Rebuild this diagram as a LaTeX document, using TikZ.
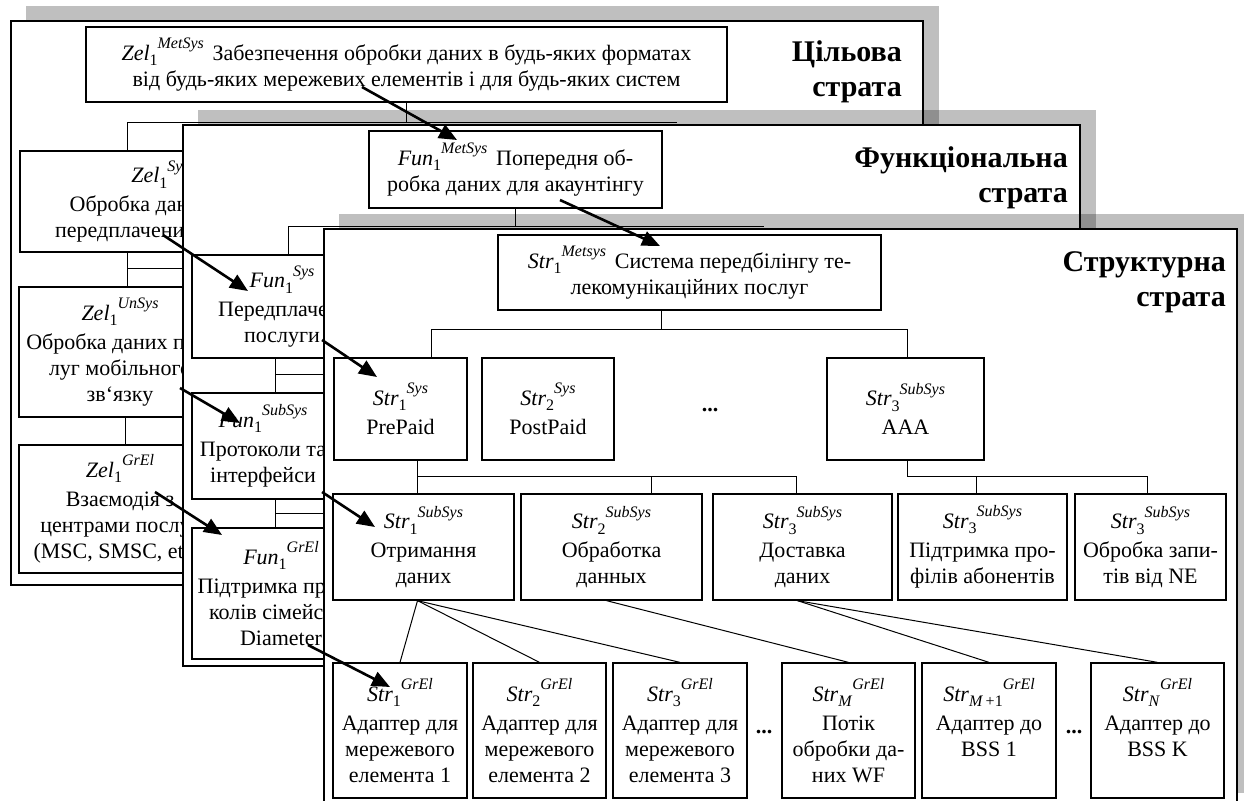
\documentclass[tikz,border=0pt]{standalone}
\usepackage{fontspec}
\setmainfont{Liberation Serif}
\usetikzlibrary{arrows.meta}
\definecolor{strataShade}{HTML}{000000}

% label of a unit: name, index, level
\newcommand{\unitlbl}[3]{\textit{#1}\raisebox{-0.25em}{\fontsize{16}{16}\selectfont #2}\raisebox{0.52em}{\fontsize{16}{16}\selectfont\itshape #3}}

\begin{document}
\begin{tikzpicture}[
    x=1pt, y=-1pt,
    every node/.style={font=\fontsize{22}{26}\selectfont, inner sep=0pt},
    stratumframe/.style={draw=black, line width=2.2pt, fill=white},
    stratashadow/.style={fill=strataShade, fill opacity=0.25},
    unitbox/.style={draw=black, line width=1.3pt, fill=white, align=center},
    treeline/.style={draw=black, line width=1pt},
    tracearrow/.style={draw=black, line width=2.6pt, -{Triangle[length=18pt, width=15pt]}},
    stratatitle/.style={font=\fontsize{30}{35}\selectfont\bfseries, align=right, anchor=north east}
]
\useasboundingbox (0,0) rectangle (1244,800);
\clip (0,0) rectangle (1244,800);

% ============================
% Goal stratum
% ============================
\fill[stratashadow] (26,6) rectangle (939,570);
\filldraw[stratumframe] (11,21) rectangle (923,585);
\node[stratatitle] (titleZel) at (902,40) {Цільова\\страта};

\node[unitbox, minimum width=641, minimum height=75] (zelMeta) at (406.5,64.5)
    {\unitlbl{Zel}{1}{MetSys}\hspace{0.4em}Забезпечення обробки даних в будь-яких форматах\\від будь-яких мережевих елементів і для будь-яких систем};
\node[unitbox, minimum width=280, minimum height=101] (zelSys) at (160,201.5)
    {\unitlbl{Zel}{1}{Sys}\\[3pt]Обробка даних про\\передплачених послуг};
\node[unitbox, minimum width=202, minimum height=130] (zelUnSys) at (120,352)
    {\unitlbl{Zel}{1}{UnSys}\\[3pt]Обробка даних пос-\\луг мобільного\\зв‘язку};
\node[unitbox, minimum width=202, minimum height=128] (zelGrEl) at (120,509)
    {\unitlbl{Zel}{1}{GrEl}\\[3pt]Взаємодія з\\центрами послуг\\(MSC, SMSC, etc.)};

\coordinate (zelBus) at (127,122);
\coordinate (zelFork) at (127,268);
\draw[treeline] (zelMeta.south) -- (zelMeta.south |- zelBus);
\draw[treeline] (zelSys.north -| zelBus) |- (677,122);
\draw[treeline] (zelSys.south -| zelFork) -- (zelUnSys.north -| zelFork);
\draw[treeline] (zelFork) -- (320,268);
\draw[treeline] (zelUnSys.south -| 125,0) -- (zelGrEl.north -| 125,0);

% ============================
% Functional stratum
% ============================
\fill[stratashadow] (198,110) rectangle (1096,651);
\filldraw[stratumframe] (183,125) rectangle (1080,666);
\node[stratatitle] (titleFun) at (1068,146) {Функціональна\\страта};

\node[unitbox, minimum width=293, minimum height=77] (funMeta) at (515.5,169.5)
    {\unitlbl{Fun}{1}{MetSys}\hspace{0.4em}Попередня об-\\робка даних для акаунтінгу};
\node[unitbox, minimum width=180, minimum height=103] (funSys) at (282,306.5)
    {\unitlbl{Fun}{1}{Sys}\\[3pt]Передплачені\\послуги};
\node[unitbox, minimum width=142, minimum height=106] (funSubSys) at (263,446)
    {\unitlbl{Fun}{1}{SubSys}\\[3pt]Протоколи та\\інтерфейси};
\node[unitbox, minimum width=178, minimum height=131] (funGrEl) at (281,593.5)
    {\unitlbl{Fun}{1}{GrEl}\\[3pt]Підтримка прото-\\колів сімейства\\Diameter};

\coordinate (funBus) at (288,226);
\coordinate (funForkA) at (275,374);
\coordinate (funForkB) at (275,513);
\draw[treeline] (funMeta.south) -- (funMeta.south |- funBus);
\draw[treeline] (funSys.north -| funBus) |- (764,226);
\draw[treeline] (funSys.south -| funForkA) -- (funSubSys.north -| funForkA);
\draw[treeline] (funForkA) -- (420,374);
\draw[treeline] (funSubSys.south -| funForkB) -- (funGrEl.north -| funForkB);
\draw[treeline] (funForkB) -- (420,513);

% ============================
% Structural stratum
% ============================
\fill[stratashadow] (339,214) rectangle (1253,793);
\filldraw[stratumframe] (324,229) rectangle (1237,808);
\node[stratatitle] (titleStr) at (1226,251) {Структурна\\страта};

\node[unitbox, minimum width=383, minimum height=75] (strMeta) at (689.5,272.5)
    {\unitlbl{Str}{1}{Metsys}\hspace{0.4em}Система передбілінгу те-\\лекомунікаційних послуг};

% systems
\node[unitbox, minimum width=133, minimum height=102] (strPre) at (400.5,409)
    {\unitlbl{Str}{1}{Sys}\\[3pt]PrePaid};
\node[unitbox, minimum width=132, minimum height=102] (strPost) at (548,409)
    {\unitlbl{Str}{2}{Sys}\\[3pt]PostPaid};
\node[font=\fontsize{22}{26}\selectfont\bfseries] (dotsSys) at (710,410) {...};
\node[unitbox, minimum width=157, minimum height=102] (strAAA) at (905.5,409)
    {\unitlbl{Str}{3}{SubSys}\\[3pt]AAA};

% subsystems
\node[unitbox, minimum width=181, minimum height=106] (strRecv) at (423.5,547)
    {\unitlbl{Str}{1}{SubSys}\\[3pt]Отримання\\даних};
\node[unitbox, minimum width=181, minimum height=106] (strProc) at (611.5,547)
    {\unitlbl{Str}{2}{SubSys}\\[3pt]Обработка\\данных};
\node[unitbox, minimum width=179, minimum height=106] (strDeliv) at (802.5,547)
    {\unitlbl{Str}{3}{SubSys}\\[3pt]Доставка\\даних};
\node[unitbox, minimum width=169, minimum height=106] (strProf) at (982.5,547)
    {\unitlbl{Str}{3}{SubSys}\\[3pt]Підтримка про-\\філів абонентів};
\node[unitbox, minimum width=151, minimum height=106] (strReq) at (1150.5,547)
    {\unitlbl{Str}{3}{SubSys}\\[3pt]Обробка запи-\\тів від NE};

% group elements
\node[unitbox, minimum width=134, minimum height=135] (strAdA) at (400,730.5)
    {\unitlbl{Str}{1}{GrEl}\\[3pt]Адаптер для\\мережевого\\елемента 1};
\node[unitbox, minimum width=133, minimum height=135] (strAdB) at (539.5,730.5)
    {\unitlbl{Str}{2}{GrEl}\\[3pt]Адаптер для\\мережевого\\елемента 2};
\node[unitbox, minimum width=134, minimum height=135] (strAdC) at (680,730.5)
    {\unitlbl{Str}{3}{GrEl}\\[3pt]Адаптер для\\мережевого\\елемента 3};
\node[font=\fontsize{22}{26}\selectfont\bfseries] (dotsGrA) at (764,732) {...};
\node[unitbox, minimum width=133, minimum height=135] (strFlow) at (848.5,730.5)
    {\unitlbl{Str}{\textit{M}}{GrEl}\\[3pt]Потік\\обробки да-\\них WF};
\node[unitbox, minimum width=134, minimum height=135] (strBssA) at (989,730.5)
    {\unitlbl{Str}{\textit{M}\,+1}{GrEl}\\[3pt]Адаптер до\\BSS 1\\\mbox{}};
\node[font=\fontsize{22}{26}\selectfont\bfseries] (dotsGrB) at (1074,732) {...};
\node[unitbox, minimum width=133, minimum height=135] (strBssK) at (1157.5,730.5)
    {\unitlbl{Str}{\textit{N}}{GrEl}\\[3pt]Адаптер до\\BSS K\\\mbox{}};

% tree of the structural stratum
\draw[treeline] (strMeta.south -| 661,0) -- (661,329);
\draw[treeline] (strPre.north -| 431,0) |- (907,329) -- (strAAA.north -| 907,0);
\draw[treeline] (strPre.south -| 417,0) -- (strRecv.north -| 417,0);
\draw[treeline] (417,476) -| (strProc.north -| 651,0);
\draw[treeline] (651,476) -| (strDeliv.north -| 796,0);
\draw[treeline] (strAAA.south -| 907,0) |- (1147,476) -- (strReq.north -| 1147,0);
\draw[treeline] (976,476) -- (strProf.north -| 976,0);

\foreach \leaf in {strAdA, strAdB, strAdC}
    \draw[treeline] ([xshift=-6]strRecv.south) -- (\leaf.north);
\draw[treeline] ([xshift=-5]strProc.south) -- (strFlow.north);
\foreach \leaf in {strBssA, strBssK}
    \draw[treeline] ([xshift=-5]strDeliv.south) -- (\leaf.north);

% ============================
% Correspondence between strata
% ============================
\draw[tracearrow] ([shift={(-44.5,22.5)}]zelMeta.center) -- ([shift={(-58.5,-29.5)}]funMeta.center);
\draw[tracearrow] ([shift={(44.5,30.5)}]funMeta.center) -- ([shift={(-29.5,-26.5)}]strMeta.center);
\draw[tracearrow] ([shift={(3,33.5)}]zelSys.center) -- ([shift={(-34,-15.5)}]funSys.center);
\draw[tracearrow] ([shift={(40,33.5)}]funSys.center) -- ([shift={(-23.5,-32)}]strPre.center);
\draw[tracearrow] ([shift={(60,36)}]zelUnSys.center) -- ([shift={(-23,-23)}]funSubSys.center);
\draw[tracearrow] ([shift={(59,46)}]funSubSys.center) -- ([shift={(-48.5,-20)}]strRecv.center);
\draw[tracearrow] ([shift={(35,-17)}]zelGrEl.center) -- ([shift={(-59,-58.5)}]funGrEl.center);
\draw[tracearrow] ([shift={(27,51.5)}]funGrEl.center) -- ([shift={(-10,-43.5)}]strAdA.center);

\end{tikzpicture}
\end{document}
